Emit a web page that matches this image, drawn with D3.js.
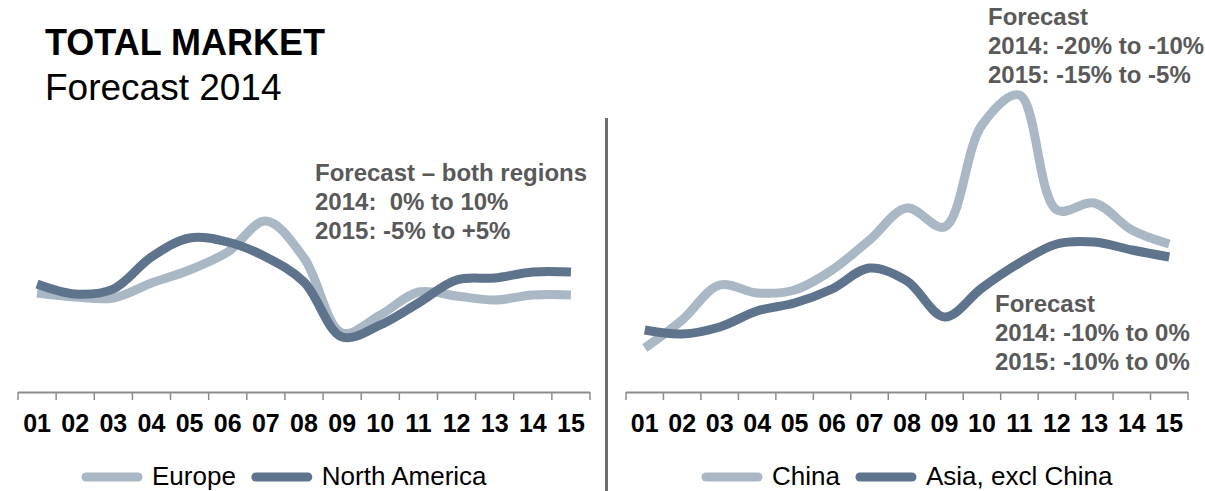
<!DOCTYPE html>
<html>
<head>
<meta charset="utf-8">
<script src="https://cdn.jsdelivr.net/npm/d3@7"></script>
<style>
  html, body { margin: 0; padding: 0; background: #fff; }
  svg { display: block; font-family: "Liberation Sans", Arial, sans-serif; }
  text { white-space: pre; }
</style>
</head>
<body>
<svg id="chart" width="1205" height="491"></svg>
<script>
// Periods shown on both horizontal axes
const periods = ["01","02","03","04","05","06","07","08","09","10","11","12","13","14","15"];

// Market index per period (no vertical axis is shown)
const europe       = [49.5, 47.5, 47, 54.5, 61, 70, 85.5, 67, 29.5, 38.5, 50, 48, 46, 48.5, 48.5];
const northAmerica = [54, 49, 51.5, 67.5, 77, 75, 67.5, 55, 27.5, 33.5, 44.5, 56, 57, 60, 60];
const china        = [22, 36, 53.5, 49.5, 51, 61, 76, 92, 82.5, 133.5, 148.5, 91, 94.5, 81, 74];
const asiaExChina  = [31, 29, 32.5, 40.5, 44.5, 51.5, 62, 55.5, 37.5, 52, 64.5, 74, 75, 71, 67.5];

const LIGHT = "#aab7c4";
const DARK  = "#5e738c";
const NOTE  = "#595959";

const svg = d3.select("#chart");

// Title block
svg.append("text").attr("x", 45).attr("y", 55)
  .attr("font-size", 36).attr("font-weight", "bold").attr("fill", "#000")
  .text("TOTAL MARKET");
svg.append("text").attr("x", 45).attr("y", 100)
  .attr("font-size", 37).attr("fill", "#000")
  .text("Forecast 2014");

// Divider between the two panels
svg.append("line")
  .attr("x1", 606.5).attr("x2", 606.5).attr("y1", 118).attr("y2", 491)
  .attr("stroke", "#6e6e6e").attr("stroke-width", 3);

const y = d3.scaleLinear().domain([0, 150]).range([392, 92]);

function panel(x0, x1, seriesA, seriesB, legendItems, legendX) {
  const x = d3.scaleBand().domain(periods).range([x0, x1]);
  const g = svg.append("g");

  // Category axis with tick marks between periods
  const axis = d3.axisBottom(x).tickSize(0).tickPadding(0);
  const ag = g.append("g").attr("transform", "translate(0,392)").call(axis);
  ag.select(".domain").remove();
  ag.selectAll("text")
    .attr("y", 40).attr("dy", 0)
    .attr("font-size", 25).attr("font-weight", "bold").attr("fill", "#000")
    .attr("font-family", "Liberation Sans, Arial, sans-serif");

  g.append("line")
    .attr("x1", x0).attr("x2", x1).attr("y1", 392.5).attr("y2", 392.5)
    .attr("stroke", "#8c8c8c").attr("stroke-width", 2);
  const bounds = periods.map(p => x(p)).concat([x1]);
  g.selectAll("line.tick-mark").data(bounds).join("line")
    .attr("class", "tick-mark")
    .attr("x1", d => d).attr("x2", d => d)
    .attr("y1", 392).attr("y2", 400)
    .attr("stroke", "#8c8c8c").attr("stroke-width", 1.5);

  const line = d3.line()
    .x((d, i) => x(periods[i]) + x.bandwidth() / 2)
    .y(d => y(d))
    .curve(d3.curveCatmullRom.alpha(0.5));

  [[seriesA, LIGHT], [seriesB, DARK]].forEach(([s, c]) => {
    g.append("path").datum(s)
      .attr("d", line)
      .attr("fill", "none")
      .attr("stroke", c)
      .attr("stroke-width", 9)
      .attr("stroke-linejoin", "round")
      .attr("stroke-linecap", "butt");
  });

  // Legend
  let lx = legendX;
  legendItems.forEach(item => {
    g.append("line")
      .attr("x1", lx + 4).attr("x2", lx + 56).attr("y1", 477).attr("y2", 477)
      .attr("stroke", item.color).attr("stroke-width", 9).attr("stroke-linecap", "round");
    const t = g.append("text")
      .attr("x", lx + 70).attr("y", 485)
      .attr("font-size", 26).attr("fill", "#000")
      .text(item.label);
    lx += 70 + t.node().getComputedTextLength() + 16;
  });
}

panel(18, 590, europe, northAmerica,
  [{ label: "Europe", color: LIGHT }, { label: "North America", color: DARK }], 82);
panel(626, 1188, china, asiaExChina,
  [{ label: "China", color: LIGHT }, { label: "Asia, excl China", color: DARK }], 702);

// Forecast notes
function note(x, y0, lines) {
  const t = svg.append("text").attr("x", x).attr("y", y0)
    .attr("font-size", 24).attr("font-weight", "bold").attr("fill", NOTE);
  lines.forEach((l, i) => {
    t.append("tspan").attr("x", x).attr("y", y0 + i * 29).text(l);
  });
}
note(315, 181, ["Forecast \u2013 both regions", "2014:  0% to 10%", "2015: -5% to +5%"]);
note(988, 25, ["Forecast", "2014: -20% to -10%", "2015: -15% to -5%"]);
note(995, 312, ["Forecast", "2014: -10% to 0%", "2015: -10% to 0%"]);
</script>
</body>
</html>
